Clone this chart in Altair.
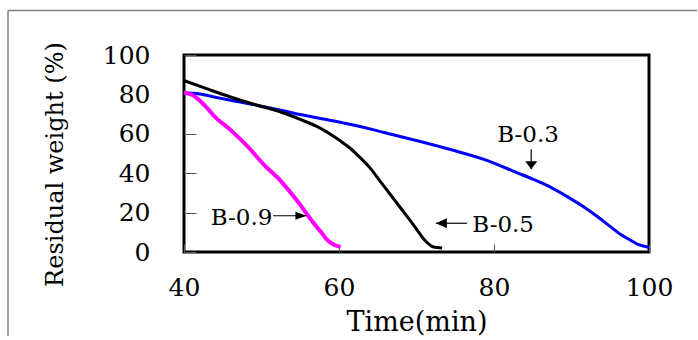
import altair as alt
import pandas as pd

# ---- data ----
b03_time = [40, 42, 44, 46, 49, 52.5, 55, 57.6, 60, 62, 64.5, 67, 70.1, 74.4, 78.7, 83, 85, 87.4,
            89.5, 91.7, 93.5, 95.1, 96.3, 97.3, 98.5, 99.8, 100]
b03_wt = [80.8, 80.2, 78.6, 77.0, 74.8, 72.0, 69.8, 67.8, 66.0, 64.3, 62.0, 59.5, 56.5, 52.0, 47.0,
          40.2, 37.0, 32.7, 28.0, 22.6, 17.5, 12.6, 9.0, 6.7, 4.0, 2.5, 2.3]

b05_time = [40, 43, 46, 49, 52.4, 55, 57.5, 59, 60.2, 61.4, 62.7, 64, 65.3, 66.6, 67.9, 69.2, 70.2,
            70.9, 71.6, 72.2, 73.3]
b05_wt = [87.0, 82.8, 78.7, 75.0, 71.2, 67.3, 63.0, 59.5, 56.3, 52.8, 48.0, 42.7, 36.0, 29.3, 22.6,
          15.9, 10.5, 6.7, 4.0, 2.5, 2.0]

b09_time = [40, 41, 41.7, 43, 43.9, 46, 48.2, 50.3, 52.5, 54.6, 56.8, 57.8, 58.5, 59.3, 60.2]
b09_wt = [80.8, 79.8, 78.0, 73.0, 69.0, 62.0, 53.6, 44.4, 36.0, 26.0, 14.3, 9.5, 6.0, 3.8, 2.5]

label_text = ["B-0.3", "B-0.5", "B-0.9"]
label_x = [84.4, 77.2, 51.4]
label_y = [59.4, 13.7, 17.1]

arrow_x1 = [84.8, 76.5, 51.5]
arrow_y1 = [52.1, 14.6, 18.4]
arrow_x2 = [84.8, 72.5, 55.8]
arrow_y2 = [42.0, 14.6, 18.4]
arrow_dir = ["down", "left", "right"]

x_ticks = [40, 60, 80, 100]
y_ticks = [0, 20, 40, 60, 80, 100]

FONT = "DejaVu Serif"

xs = alt.Scale(domain=[40, 100], nice=False, zero=False)
ys = alt.Scale(domain=[0, 100], nice=False, zero=False)

x_axis = alt.Axis(values=x_ticks, grid=False, domain=False, ticks=True, tickSize=8, offset=-8,
                  tickColor="#555555", tickWidth=1, labelFont=FONT, labelFontSize=25,
                  labelColor="black", labelBaseline="middle", labelPadding=35.5,
                  labelFlush=False, labelOverlap=False,
                  title="Time(min)", titleFont=FONT, titleFontSize=27, titleFontWeight="normal",
                  titleColor="black", titleBaseline="alphabetic", titleY=86)
y_axis = alt.Axis(values=y_ticks, grid=False, domain=False, ticks=True, tickSize=12, offset=-12,
                  tickColor="#555555", tickWidth=1, labelFont=FONT, labelFontSize=25,
                  labelColor="black", labelAlign="right", labelBaseline="middle", labelPadding=34,
                  labelFlush=False, labelOverlap=False,
                  title="Residual weight (%)", titleFont=FONT, titleFontSize=24,
                  titleFontWeight="normal", titleColor="black", titleAngle=270,
                  titleAlign="center", titleBaseline="middle", titleX=-141, titleY=109)


def X(field):
    return alt.X(field, scale=xs, axis=x_axis)


def Y(field):
    return alt.Y(field, scale=ys, axis=y_axis)


def series(t, w):
    return pd.DataFrame({"t": t, "w": w})


def line(df, color, width):
    return alt.Chart(df).mark_line(color=color, strokeWidth=width, interpolate="monotone").encode(
        x=X("t:Q"), y=Y("w:Q"))


blue = line(series(b03_time, b03_wt), "#0000ff", 3)
black = line(series(b05_time, b05_wt), "#000000", 3)
magenta = line(series(b09_time, b09_wt), "#ff00ff", 4)

lab = pd.DataFrame({"label": label_text, "t": label_x, "w": label_y})


def text(i, align):
    return alt.Chart(lab.iloc[[i]]).mark_text(font=FONT, fontSize=23, color="black", align=align,
                                              baseline="middle").encode(
        x=X("t:Q"), y=Y("w:Q"), text="label:N")


texts = text(0, "center") + text(1, "left") + text(2, "right")

arr = pd.DataFrame({"t": arrow_x1, "w": arrow_y1, "t2": arrow_x2, "w2": arrow_y2, "dir": arrow_dir})
rules = alt.Chart(arr).mark_rule(color="black", strokeWidth=1.2).encode(
    x=X("t:Q"), y=Y("w:Q"), x2="t2:Q", y2="w2:Q")
heads = alt.Chart(arr).mark_point(filled=True, color="black", opacity=1, size=100).encode(
    x=X("t2:Q"), y=Y("w2:Q"),
    shape=alt.Shape("dir:N", legend=None, scale=alt.Scale(
        domain=["down", "left", "right"],
        range=["M-1.2,-1.6L1.2,-1.6L0,0Z", "M2.2,-1L2.2,1L0,0Z", "M-2.2,-0.8L-2.2,0.8L0,0Z"])))

# outer picture border: top and left edges, kept inside the drawing surface
one = pd.DataFrame({"k": [0]})
border_top = alt.Chart(one).mark_rule(color="#808080", strokeWidth=1.5, clip=False).encode(
    x=alt.value(-176), x2=alt.value(513), y=alt.value(-44.5))
border_left = alt.Chart(one).mark_rule(color="#808080", strokeWidth=1.5, clip=False).encode(
    x=alt.value(-176), y=alt.value(-44.5), y2=alt.value(281))

chart = alt.layer(blue, black, magenta, rules, heads, texts, border_top, border_left).properties(
    width=465, height=197,
    autosize=alt.AutoSizeParams(type="none"),
    padding={"left": 184, "top": 55, "right": 48, "bottom": 84},
    background="white",
).configure_view(stroke="black", strokeWidth=3)

chart.save("out.html", embed_options={"renderer": "svg", "actions": False})
